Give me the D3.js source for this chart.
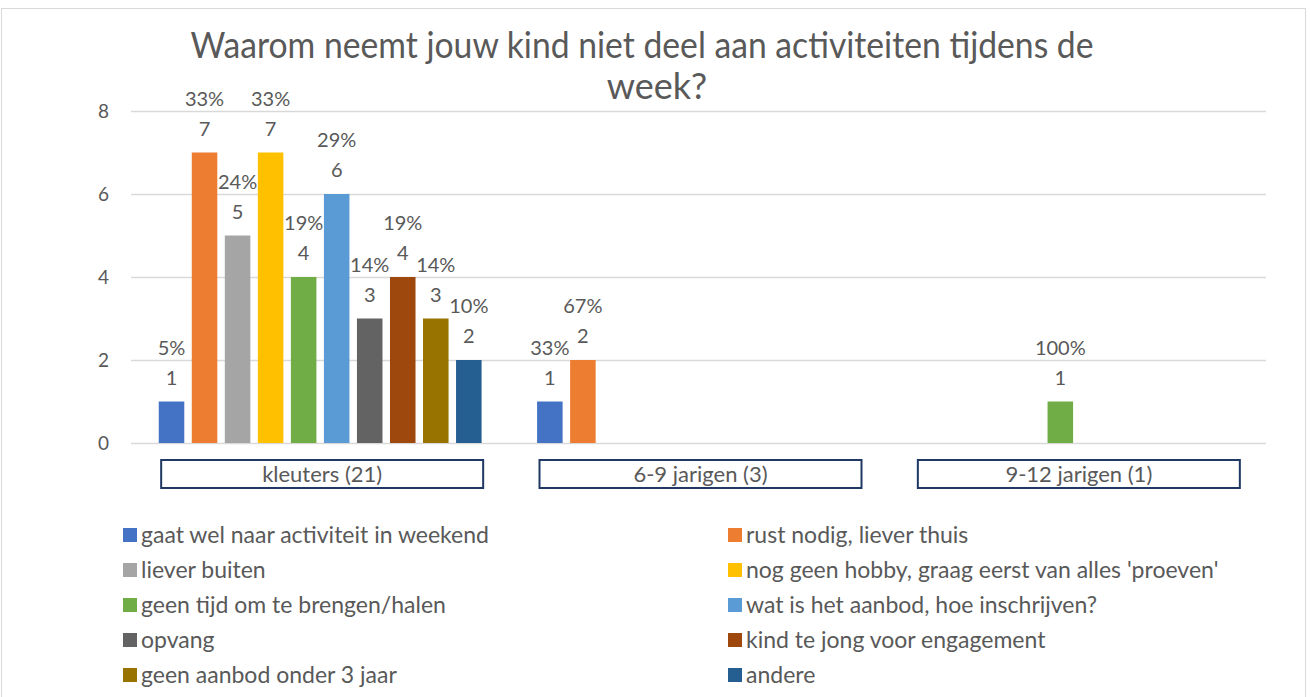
<!DOCTYPE html>
<html>
<head>
<meta charset="utf-8">
<script src="https://cdn.jsdelivr.net/npm/d3@7"></script>
<style>
  body { margin: 0; background: #fff; }
  text { font-family: Lato, "Open Sans", sans-serif; fill: #595959; }
</style>
</head>
<body>
<div id="chart"></div>
<script>
// data
var categories = ["kleuters (21)", "6-9 jarigen (3)", "9-12 jarigen (1)"];
var seriesNames = [
  "gaat wel naar activiteit in weekend",
  "rust nodig, liever thuis",
  "liever buiten",
  "nog geen hobby, graag eerst van alles 'proeven'",
  "geen tijd om te brengen/halen",
  "wat is het aanbod, hoe inschrijven?",
  "opvang",
  "kind te jong voor engagement",
  "geen aanbod onder 3 jaar",
  "andere"
];
var kleutersValues = [1, 7, 5, 7, 4, 6, 3, 4, 3, 2];
var kleutersPct = ["5%", "33%", "24%", "33%", "19%", "29%", "14%", "19%", "14%", "10%"];
var jarigen69Values = [1, 2, null, null, null, null, null, null, null, null];
var jarigen69Pct = ["33%", "67%", null, null, null, null, null, null, null, null];
var jarigen912Values = [null, null, null, null, 1, null, null, null, null, null];
var jarigen912Pct = [null, null, null, null, "100%", null, null, null, null, null];
var yTicks = [0, 2, 4, 6, 8];

var colors = ["#4472C4", "#ED7D31", "#A5A5A5", "#FFC000", "#70AD47",
              "#5B9BD5", "#636363", "#9E480E", "#997300", "#255E91"];

var allValues = [kleutersValues, jarigen69Values, jarigen912Values];
var allPct = [kleutersPct, jarigen69Pct, jarigen912Pct];

var W = 1310, H = 697;
var margin = {top: 111, left: 131, right: 44, bottom: 254};
var width = W - margin.left - margin.right,
    height = H - margin.top - margin.bottom;

var svg = d3.select("#chart").append("svg")
    .attr("width", W)
    .attr("height", H);

// outer chart border
svg.append("rect")
    .attr("x", 1.5).attr("y", 8.5)
    .attr("width", 1304).attr("height", 700)
    .attr("fill", "none")
    .attr("stroke", "#D9D9D9");

// title (two lines, like the original)
var title = svg.append("text")
    .attr("text-anchor", "middle")
    .style("font-size", "36px");
title.append("tspan").attr("x", 642).attr("y", 58)
    .attr("textLength", 903).attr("lengthAdjust", "spacingAndGlyphs")
    .text("Waarom neemt jouw kind niet deel aan activiteiten tijdens de");
title.append("tspan").attr("x", 657).attr("y", 99)
    .text("week?");

var g = svg.append("g")
    .attr("transform", "translate(" + margin.left + "," + margin.top + ")");

var x0 = d3.scaleBand().domain(d3.range(categories.length)).range([0, width]);
var x1 = d3.scaleBand().domain(d3.range(seriesNames.length))
    .range([0, x0.bandwidth()])
    .paddingInner(0.227).paddingOuter(0.84);
var y = d3.scaleLinear().domain([0, 8]).range([height, 0]);

// gridlines + y labels
var yAxis = g.append("g")
    .call(d3.axisLeft(y).tickValues(yTicks).tickSize(-width).tickPadding(22));
yAxis.select(".domain").remove();
yAxis.selectAll("line").attr("stroke", "#D9D9D9").attr("stroke-width", 1.5);
yAxis.selectAll("text").style("font-size", "19px").attr("fill", "#595959")
    .style("font-family", "Lato, sans-serif");

// bars
categories.forEach(function(c, i) {
  var grp = g.append("g").attr("transform", "translate(" + x0(i) + ",0)");
  var rows = allValues[i].map(function(v, j) { return {v: v, j: j, p: allPct[i][j]}; })
      .filter(function(d) { return d.v != null; });

  grp.selectAll("rect").data(rows).enter().append("rect")
      .attr("x", function(d) { return x1(d.j); })
      .attr("y", function(d) { return y(d.v); })
      .attr("width", x1.bandwidth())
      .attr("height", function(d) { return height - y(d.v); })
      .attr("fill", function(d) { return colors[d.j]; });

  grp.selectAll(".val").data(rows).enter().append("text")
      .attr("class", "val")
      .attr("text-anchor", "middle")
      .attr("x", function(d) { return x1(d.j) + x1.bandwidth() / 2; })
      .attr("y", function(d) { return y(d.v) - 17; })
      .style("font-size", "20px")
      .text(function(d) { return d.v; });

  grp.selectAll(".pct").data(rows).enter().append("text")
      .attr("class", "pct")
      .attr("text-anchor", "middle")
      .attr("x", function(d) { return x1(d.j) + x1.bandwidth() / 2; })
      .attr("y", function(d) { return y(d.v) - 47; })
      .style("font-size", "20px")
      .text(function(d) { return d.p; });

  // boxed category label
  var cx = x0(i) + x0.bandwidth() / 2 + 2;
  g.append("rect")
      .attr("x", cx - 161).attr("y", height + 17)
      .attr("width", 322).attr("height", 28)
      .attr("fill", "#fff")
      .attr("stroke", "#1F3864").attr("stroke-width", 2);
  g.append("text")
      .attr("x", cx).attr("y", height + 39)
      .attr("text-anchor", "middle")
      .style("font-size", "22px")
      .text(c);
});

// legend, two columns
var legend = svg.append("g");
seriesNames.forEach(function(name, j) {
  var col = j % 2, row = Math.floor(j / 2);
  var lx = col === 0 ? 123 : 728, ly = 535 + row * 35;
  legend.append("rect")
      .attr("x", lx).attr("y", ly - 7)
      .attr("width", 14).attr("height", 14)
      .attr("fill", colors[j]);
  legend.append("text")
      .attr("x", lx + 18).attr("y", ly + 8)
      .style("font-size", "23px")
      .text(name);
});
</script>
</body>
</html>
